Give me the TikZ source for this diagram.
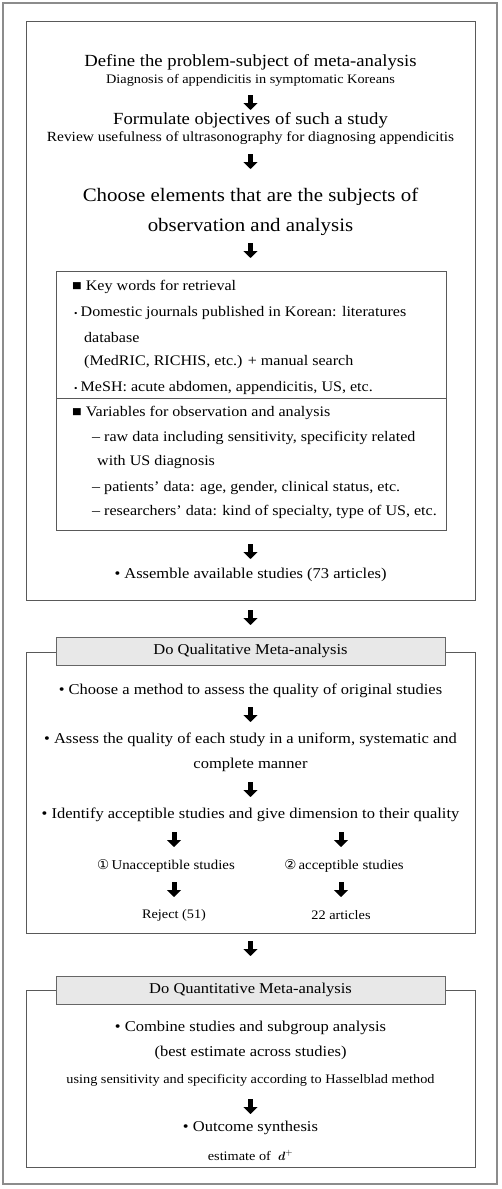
\documentclass[tikz,border=0pt]{standalone}
\usepackage{amsmath}
\usepackage{fontspec}
\setmainfont{Liberation Serif}[FakeStretch=1.1]
\newfontfamily\circfont{DejaVu Sans}
\usetikzlibrary{arrows.meta}

\tikzset{
  frame/.style={draw=black!65, line width=0.8pt},
  headbox/.style={draw=black!60, fill=black!9, line width=0.8pt,
    minimum width=389pt, minimum height=28pt, font=\fontsize{15}{18}\selectfont},
  bigtext/.style={font=\fontsize{17}{22}\selectfont},
  hugetext/.style={font=\fontsize{19}{30}\selectfont, align=center},
  subtext/.style={font=\fontsize{13}{16}\selectfont},
  steptext/.style={font=\fontsize{15}{25}\selectfont, align=center},
  itemtext/.style={anchor=west, font=\fontsize{14.6}{18}\selectfont, inner sep=0pt},
  downarrow/.style={-{Triangle[width=14pt,length=7pt]}, line width=5pt},
}

\begin{document}
\begin{tikzpicture}[x=1pt, y=-1pt]
    \useasboundingbox (0,0) rectangle (501,1189);
    % outer frame
    \draw[draw=black!45, line width=1.2pt] (3,3) rectangle (497,1184);

    % first block
    \draw[frame] (26,21) rectangle (475,600);
    \node[bigtext] (define) at (250.5,62) {Define the problem-subject of meta-analysis};
    \node[subtext] (diag) at (250.5,80) {Diagnosis of appendicitis in symptomatic Koreans};
    \node[bigtext] (formulate) at (250.5,120) {Formulate objectives of such a study};
    \node[subtext, font=\fontsize{14}{16}\selectfont] (review) at (250.5,138) {Review usefulness of ultrasonography for diagnosing appendicitis};
    \node[hugetext] (elements) at (250.5,212) {Choose elements that are the subjects of\\observation and analysis};

    % retrieval box
    \draw[frame] (56,271) rectangle (446,530);
    \draw[frame] (56,398) -- (446,398);
    \node[itemtext] (kw)   at (72,287) {■ Key words for retrieval};
    \node[itemtext] (dom)  at (74,313) {{\small•}\hspace{3pt}Domestic journals published in Korean: literatures};
    \node[itemtext] (db)   at (84,337) {database};
    \node[itemtext] (med)  at (84,362) {(MedRIC, RICHIS, etc.) + manual search};
    \node[itemtext] (mesh) at (74,388) {{\small•}\hspace{3pt}MeSH: acute abdomen, appendicitis, US, etc.};
    \node[itemtext] (var)  at (72,413) {■ Variables for observation and analysis};
    \node[itemtext] (raw)  at (92,438) {– raw data including sensitivity, specificity related};
    \node[itemtext] (with) at (97,462) {with US diagnosis};
    \node[itemtext] (pat)  at (92,488) {– patients’ data: age, gender, clinical status, etc.};
    \node[itemtext] (res)  at (92,512) {– researchers’ data: kind of specialty, type of US, etc.};
    \node[steptext] (assemble) at (250.5,575) {• Assemble available studies (73 articles)};

    % second block
    \draw[frame] (26,652) rectangle (475,933);
    \node[headbox] (quali) at (250.5,651) {Do Qualitative Meta-analysis};
    \node[steptext] (method) at (250.5,691) {• Choose a method to assess the quality of original studies};
    \node[steptext] (assess) at (250.5,752.5) {• Assess the quality of each study in a uniform, systematic and\\complete manner};
    \node[steptext] (identify) at (250.5,815) {• Identify acceptible studies and give dimension to their quality};
    \node[subtext, font=\fontsize{13.5}{16}\selectfont] (unacc) at (166,866) {{\circfont ①}\,Unacceptible studies};
    \node[subtext, font=\fontsize{13.5}{16}\selectfont] (acc) at (344,866) {{\circfont ②}\,acceptible studies};
    \node[subtext] (reject) at (174,915) {Reject (51)};
    \node[subtext] (art) at (341,915) {22 articles};

    % third block
    \draw[frame] (26,990) rectangle (475,1167);
    \node[headbox] (quanti) at (250.5,990) {Do Quantitative Meta-analysis};
    \node[steptext] (combine) at (250.5,1028) {• Combine studies and subgroup analysis};
    \node[steptext] (best) at (250.5,1053) {(best estimate across studies)};
    \node[subtext] (using) at (250.5,1080) {using sensitivity and specificity according to Hasselblad method};
    \node[steptext] (outcome) at (250.5,1128) {• Outcome synthesis};
    \node[subtext] (estimate) at (250.5,1155) {estimate of \ $\boldsymbol{d}^{+}$};

    % arrows
    \coordinate (a1) at (250.5,95);
    \coordinate (a2) at (250.5,154);
    \coordinate (a3) at (250.5,243);
    \coordinate (a4) at (250.5,544);
    \coordinate (a5) at (250.5,610);
    \coordinate (a6) at (250.5,707);
    \coordinate (a7) at (250.5,782);
    \coordinate (a8) at (174,832);
    \coordinate (a9) at (341,832);
    \coordinate (a10) at (174,882);
    \coordinate (a11) at (341,882);
    \coordinate (a12) at (250.5,941);
    \coordinate (a13) at (250.5,1099);
    \foreach \a in {a1,a2,a3,a4,a5,a6,a7,a8,a9,a10,a11,a12,a13}
        \draw[downarrow] (\a) -- ++(0,15);
\end{tikzpicture}
\end{document}
